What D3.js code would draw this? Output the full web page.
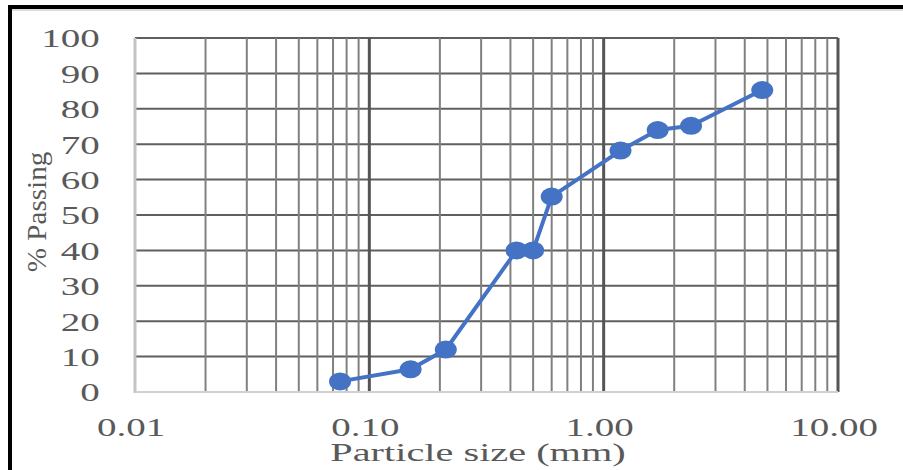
<!DOCTYPE html>
<html>
<head>
<meta charset="utf-8">
<script src="https://cdn.jsdelivr.net/npm/d3@7/dist/d3.min.js"></script>
<style>
  html, body { margin: 0; padding: 0; background: #fff; }
  svg { display: block; }
  text { font-family: "Liberation Serif", "Times New Roman", serif; }
</style>
</head>
<body>
<svg id="chart" width="903" height="470"></svg>
<script>
// Grain size distribution: sieve opening (mm) vs. percent passing
const particleSize = [0.075, 0.15, 0.212, 0.425, 0.5, 0.6, 1.18, 1.7, 2.36, 4.75];
const percentPassing = [3, 6.4, 12, 40, 40, 55.2, 68.2, 74, 75.2, 85.3];
const xTickValues = [0.01, 0.1, 1, 10];
const yTickValues = [0, 10, 20, 30, 40, 50, 60, 70, 80, 90, 100];
const xTitle = "Particle size (mm)";
const yTitle = "% Passing";

const svg = d3.select("#chart");
const W = 903, H = 470;
const plotLeft = 135, plotRight = 838, plotTop = 38, plotBottom = 392;

const x = d3.scaleLog().domain([0.01, 10]).range([plotLeft, plotRight]);
const y = d3.scaleLinear().domain([0, 100]).range([plotBottom, plotTop]);

svg.append("rect").attr("width", W).attr("height", H).attr("fill", "#fff");

// Outer frame (top and left edges)
svg.append("line").attr("x1", 8).attr("x2", W).attr("y1", 7).attr("y2", 7)
  .attr("stroke", "#000").attr("stroke-width", 4);
svg.append("line").attr("x1", 10).attr("x2", 10).attr("y1", 5).attr("y2", H)
  .attr("stroke", "#000").attr("stroke-width", 4);
svg.append("line").attr("x1", 12).attr("x2", W).attr("y1", 10).attr("y2", 10)
  .attr("stroke", "#bbb").attr("stroke-width", 1);

// Horizontal grid
const grid = svg.append("g");
grid.selectAll("line.h").data(yTickValues.filter(v => v > 0)).join("line")
  .attr("x1", plotLeft).attr("x2", plotRight)
  .attr("y1", d => y(d)).attr("y2", d => y(d))
  .attr("stroke", "#5f5f5f").attr("stroke-width", 2);

// Vertical log grid (minor and decade lines)
const isDecade = v => Math.abs(Math.log10(v) - Math.round(Math.log10(v))) < 1e-9;
grid.selectAll("line.v").data(x.ticks().filter(v => v > 0.01)).join("line")
  .attr("x1", d => x(d)).attr("x2", d => x(d))
  .attr("y1", plotTop).attr("y2", plotBottom)
  .attr("stroke", d => isDecade(d) ? "#555" : "#808080")
  .attr("stroke-width", d => isDecade(d) ? 3 : 2);

// Axis lines
svg.append("line").attr("x1", plotLeft).attr("x2", plotLeft).attr("y1", plotTop).attr("y2", plotBottom + 1)
  .attr("stroke", "#c4c4c4").attr("stroke-width", 3);
svg.append("line").attr("x1", plotLeft).attr("x2", plotRight).attr("y1", plotBottom).attr("y2", plotBottom)
  .attr("stroke", "#d0d0d0").attr("stroke-width", 2);

// Axes labels
const fmt = d3.format(".2f");
const xAxis = svg.append("g").attr("transform", `translate(0,${plotBottom})`)
  .call(d3.axisBottom(x).tickValues(xTickValues).tickFormat(fmt).tickSize(0));
xAxis.select(".domain").remove();
xAxis.selectAll("text")
  .attr("x", -3).attr("y", 44).attr("dy", 0)
  .attr("font-size", 26).attr("fill", "#595959")
  .attr("transform", "scale(1.5,1)");

const yAxis = svg.append("g").attr("transform", `translate(${plotLeft},0)`)
  .call(d3.axisLeft(y).tickValues(yTickValues).tickSize(0).tickPadding(23.5));
yAxis.select(".domain").remove();
yAxis.selectAll("text")
  .attr("dy", "0.34em")
  .attr("font-size", 26).attr("fill", "#595959")
  .attr("transform", "scale(1.5,1)");

// Titles
svg.append("text")
  .attr("transform", `translate(478,461) scale(1.55,1)`)
  .attr("text-anchor", "middle")
  .attr("font-size", 26).attr("fill", "#595959")
  .text(xTitle);

svg.append("text")
  .attr("transform", `translate(46,212) rotate(-90) scale(1.04,1)`)
  .attr("text-anchor", "middle")
  .attr("font-size", 28).attr("fill", "#595959")
  .text(yTitle);

// Data series
const pts = particleSize.map((s, i) => [s, percentPassing[i]]);
svg.append("path").datum(pts)
  .attr("fill", "none").attr("stroke", "#4472c4").attr("stroke-width", 4)
  .attr("stroke-linejoin", "round")
  .attr("d", d3.line().x(d => x(d[0])).y(d => y(d[1])));

svg.selectAll("ellipse.pt").data(pts).join("ellipse")
  .attr("cx", d => x(d[0])).attr("cy", d => y(d[1]))
  .attr("rx", 11).attr("ry", 9)
  .attr("fill", "#4472c4");
</script>
</body>
</html>
